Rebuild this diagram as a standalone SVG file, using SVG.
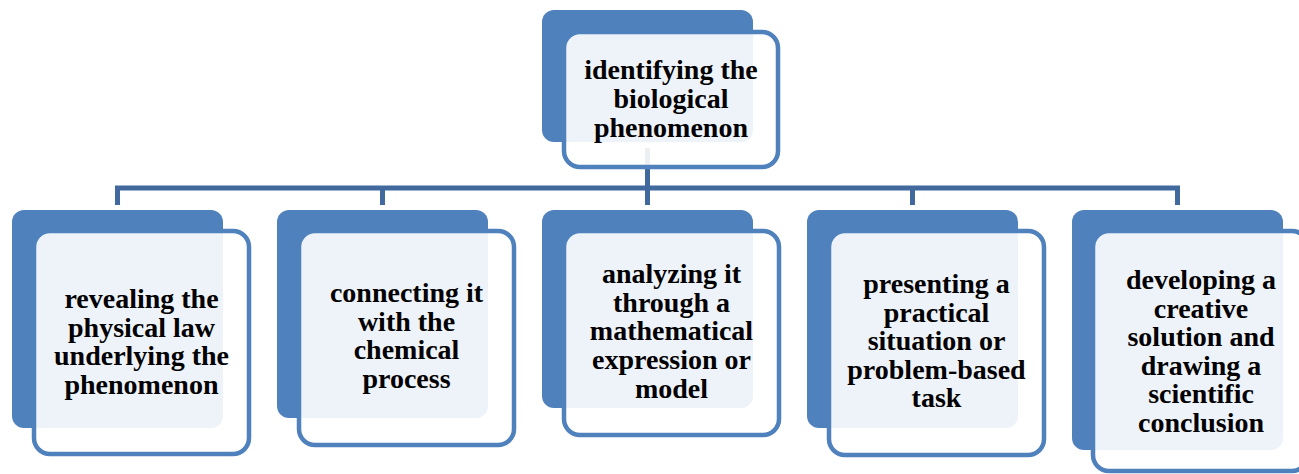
<svg xmlns="http://www.w3.org/2000/svg" width="1299" height="474" viewBox="0 0 1299 474">
<style>
.back{fill:#4f81bd;}
.front{fill:#ffffff;fill-opacity:0.9;stroke:#4f81bd;stroke-width:4.5;}
.lbl{font-family:"Liberation Serif","Times New Roman",serif;font-weight:bold;font-size:28px;fill:#000000;text-anchor:middle;}
.conn{fill:none;stroke:#41699d;stroke-width:5;stroke-linejoin:miter;stroke-linecap:butt;}
</style>
<rect width="1299" height="474" fill="#ffffff"/>
<g id="top-back"><rect class="back" x="542" y="10" width="211" height="132" rx="12"/></g>
<g id="connectors">
<path class="conn" d="M117.5,205 V188 H1177.5 V205"/>
<path class="conn" d="M382.5,188 V205"/>
<path class="conn" d="M647.5,148 V205"/>
<path class="conn" d="M912.5,188 V205"/>
</g>
<g id="node-top">
<rect class="front" x="564" y="32" width="214" height="135" rx="16"/>
<text class="lbl"><tspan x="671" y="79">identifying the</tspan><tspan x="671" y="108">biological</tspan><tspan x="671" y="137">phenomenon</tspan></text>
</g>
<g id="node-1">
<rect class="back" x="12" y="210" width="211" height="218" rx="12"/>
<rect class="front" x="34" y="231" width="215" height="223" rx="16"/>
<text class="lbl"><tspan x="141.5" y="308">revealing the</tspan><tspan x="141.5" y="336.5">physical law</tspan><tspan x="141.5" y="365">underlying the</tspan><tspan x="141.5" y="393.5">phenomenon</tspan></text>
</g>
<g id="node-2">
<rect class="back" x="277" y="210" width="211" height="208" rx="12"/>
<rect class="front" x="299" y="231" width="215" height="214" rx="16"/>
<text class="lbl"><tspan x="406.5" y="302">connecting it</tspan><tspan x="406.5" y="330.7">with the</tspan><tspan x="406.5" y="359.4">chemical</tspan><tspan x="406.5" y="388">process</tspan></text>
</g>
<g id="node-3">
<rect class="back" x="542" y="210" width="211" height="198" rx="12"/>
<rect class="front" x="564" y="231" width="215" height="204" rx="16"/>
<text class="lbl"><tspan x="671.5" y="283">analyzing it</tspan><tspan x="671.5" y="311.5">through a</tspan><tspan x="671.5" y="340">mathematical</tspan><tspan x="671.5" y="368.5">expression or</tspan><tspan x="671.5" y="397.5">model</tspan></text>
</g>
<g id="node-4">
<rect class="back" x="807" y="210" width="211" height="218" rx="12"/>
<rect class="front" x="829" y="231" width="215" height="224" rx="16"/>
<text class="lbl"><tspan x="936.5" y="293">presenting a</tspan><tspan x="936.5" y="321.5">practical</tspan><tspan x="936.5" y="350">situation or</tspan><tspan x="936.5" y="378.5">problem-based</tspan><tspan x="936.5" y="407">task</tspan></text>
</g>
<g id="node-5">
<rect class="back" x="1072" y="210" width="211" height="240" rx="12"/>
<rect class="front" x="1093" y="231" width="215" height="240" rx="16"/>
<text class="lbl"><tspan x="1201" y="289">developing a</tspan><tspan x="1201" y="317.5">creative</tspan><tspan x="1201" y="346">solution and</tspan><tspan x="1201" y="374.5">drawing a</tspan><tspan x="1201" y="403">scientific</tspan><tspan x="1201" y="431.5">conclusion</tspan></text>
</g>
</svg>
